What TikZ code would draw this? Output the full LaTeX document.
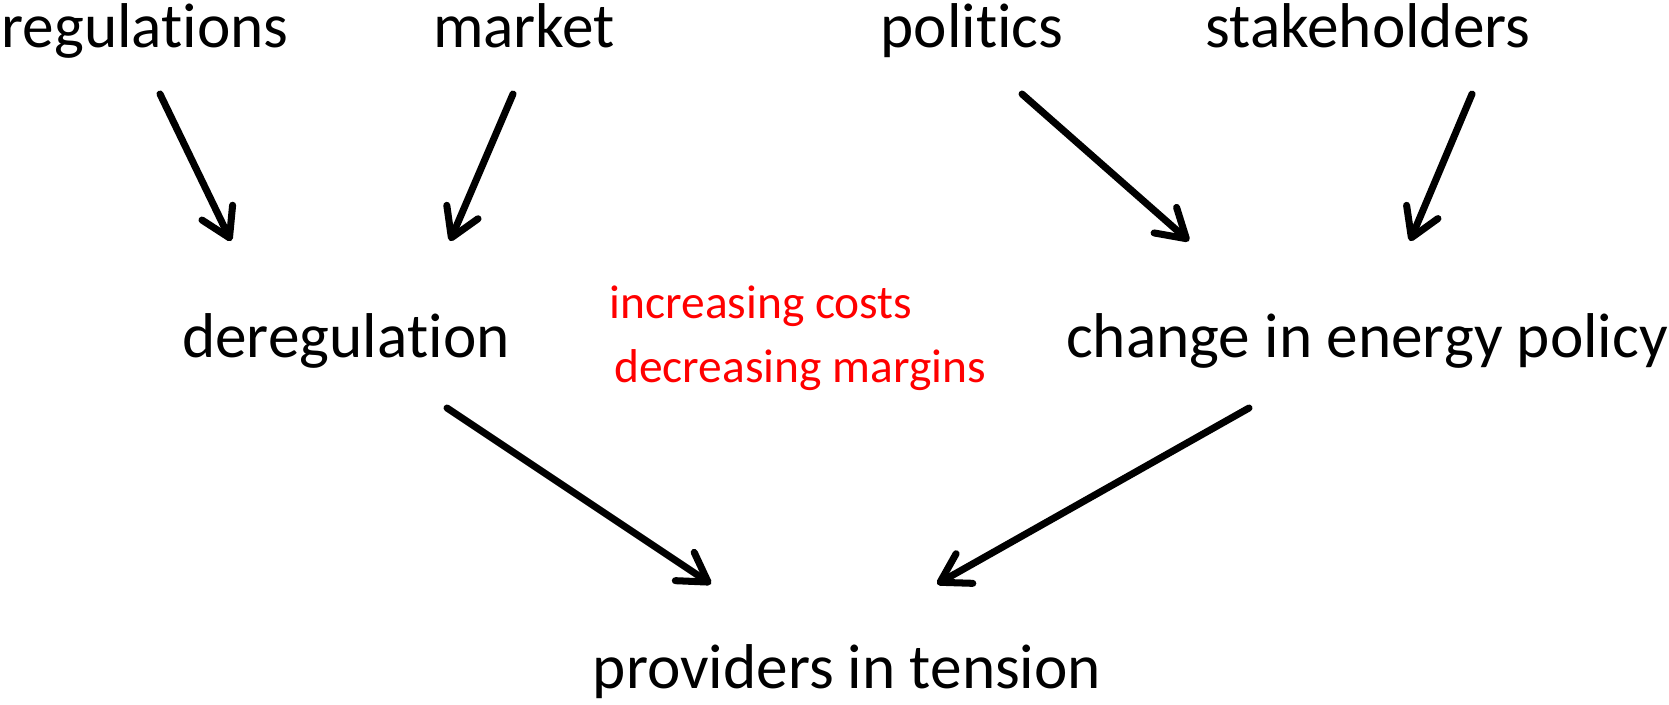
\documentclass[tikz,border=0pt]{standalone}
\usepackage{fontspec}
\setmainfont{Carlito}[Ligatures={NoCommon,NoContextual}, RawFeature={-liga;-clig;-calt;-dlig}]
\usetikzlibrary{positioning, arrows.meta}
\definecolor{costred}{HTML}{FF0000}

\begin{document}
\begin{tikzpicture}[
        factor/.style={inner sep=0pt, anchor=base, font=\fontsize{18}{20}\selectfont},
        effect/.style={inner sep=0pt, anchor=base, text=costred, font=\fontsize{13.5}{15}\selectfont},
        arr/.style={-{Straight Barb[length=0.28cm, width=0.34cm, round]}, line width=2pt, line cap=round}]
      \useasboundingbox (0,0) rectangle (16.69,-7.04);
      \node[factor] (reg) at (1.45,-0.47) {regulations};
      \node[factor] (mkt) at (5.24,-0.47) {market};
      \node[factor] (pol) at (9.72,-0.47) {poli\kern0ptt\kern0ptics};
      \node[factor] (stk) at (13.68,-0.47) {stakeholders};
      \node[factor] (dereg) at (3.46,-3.57) {deregula\kern0ptt\kern0ption};
      \node[factor] (policy) at (13.67,-3.57) {change in energy policy};
      \node[effect] (costs) at (7.61,-3.18) {increasing costs};
      \node[effect] (margins) at (8.00,-3.82) {decreasing margins};
      \node[factor] (prov) at (8.47,-6.88) {providers in tension};

      \draw[arr] ([shift={(0.15,-0.47)}]reg.base) -- ([shift={(-1.15,1.16)}]dereg.base);
      \draw[arr] ([shift={(-0.11,-0.47)}]mkt.base) -- ([shift={(1.04,1.16)}]dereg.base);
      \draw[arr] ([shift={(0.50,-0.47)}]pol.base) -- ([shift={(-1.78,1.16)}]policy.base);
      \draw[arr] ([shift={(1.04,-0.47)}]stk.base) -- ([shift={(0.43,1.16)}]policy.base);
      \draw[arr] ([shift={(1.01,-0.51)}]dereg.base) -- ([shift={(-1.36,1.04)}]prov.base);
      \draw[arr] ([shift={(-1.18,-0.51)}]policy.base) -- ([shift={(0.90,1.04)}]prov.base);
    \end{tikzpicture}
\end{document}
